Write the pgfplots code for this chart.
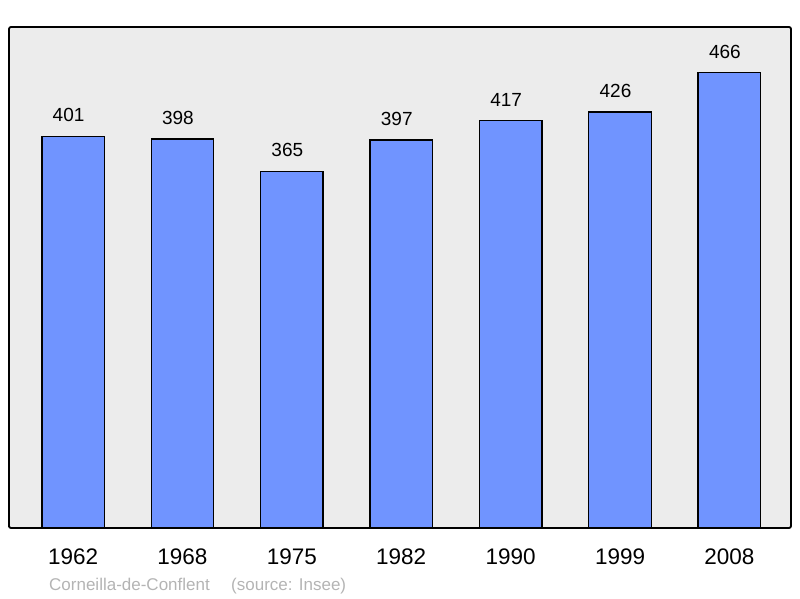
\documentclass[border=0pt]{standalone}
\usepackage{fontspec}
\setmainfont{Liberation Sans}
\usepackage{pgfplots}
\pgfplotsset{compat=1.18}
\definecolor{barblue}{HTML}{7094FF}
\definecolor{bggray}{HTML}{ECECEC}
\definecolor{srcgray}{HTML}{B4B4B4}
\begin{document}
\begin{tikzpicture}[x=1pt,y=1pt]
  \path[use as bounding box] (0,0) rectangle (800,598);
  \begin{axis}[
      at={(9pt,70pt)}, anchor=south west,
      scale only axis, width=782pt, height=501pt,
      xmin=-0.5856, xmax=6.563, ymin=0, ymax=512.8,
      axis background/.style={fill=bggray},
      axis line style={black, line width=1.8pt, rounded corners=2pt},
      ybar, bar width=62.5pt,
      xtick=data,
      xticklabels={1962,1968,1975,1982,1990,1999,2008},
      major tick length=0pt,
      ytick=\empty,
      /pgf/number format/assume math mode=true,
      xticklabel style={font=\fontsize{22.5}{26}\selectfont, anchor=base, yshift=-36.5pt},
      nodes near coords,
      every node near coord/.append style={font=\fontsize{19}{22}\selectfont, anchor=base, yshift=14.5pt, xshift=-4.5pt},
    ]
    \addplot[fill=barblue, draw=black, line width=1.4pt] coordinates {
      (0,401) (1,398) (2,365) (3,397) (4,417) (5,426) (6,466)};
  \end{axis}
  \node[anchor=base west, inner sep=0, text=srcgray, font=\fontsize{17}{20}\selectfont] at (49,8) {Corneilla-de-Conflent};
  \node[anchor=base west, inner sep=0, text=srcgray, font=\fontsize{17}{20}\selectfont] at (231,8) {(source: Insee)};
\end{tikzpicture}
\end{document}
